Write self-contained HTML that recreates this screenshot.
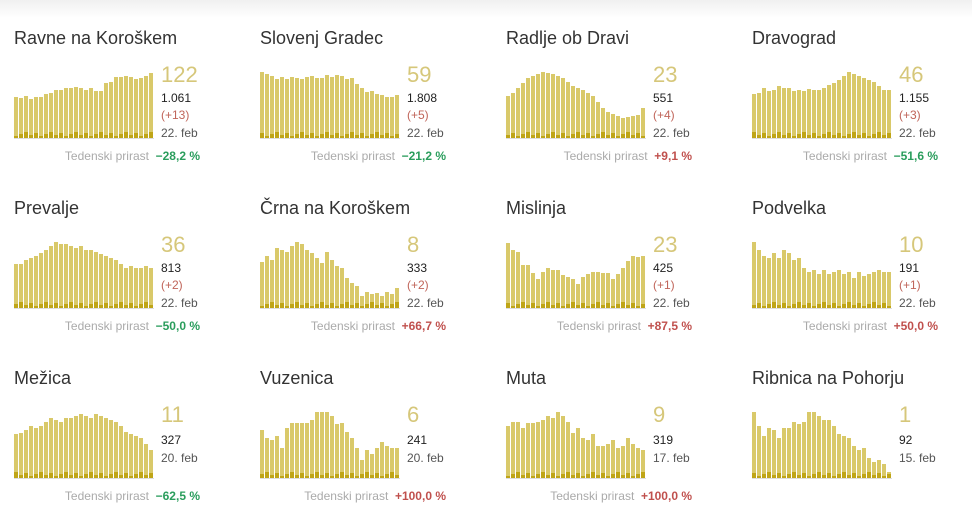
<!DOCTYPE html>
<html><head><meta charset="utf-8"><style>
body{margin:0;width:972px;height:523px;background:#fff;font-family:"Liberation Sans",sans-serif;position:relative;overflow:hidden}
.top{position:absolute;left:0;top:0;width:972px;height:18px;background:linear-gradient(#f0f0f0,#fff)}
.p{position:absolute;width:240px;height:170px}
.t{position:absolute;left:0;top:28px;font-size:18px;color:#333;white-space:nowrap}
.big{position:absolute;left:147px;top:62px;font-size:22px;color:#d6c77a}
.s{position:absolute;left:147px;font-size:12px;color:#222}
.d{color:#c0655a}
.dt{color:#555}
.w{position:absolute;right:54px;top:149px;font-size:12px;color:#aaa;white-space:nowrap}
.g{color:#2a9d5c;font-weight:bold}.r{color:#c0504d;font-weight:bold}
svg{position:absolute;left:0;top:0}
</style></head><body><div class="top"></div>
<div id="root"></div>
<script>
var P=[
["Ravne na Koroškem","122","1.061","(+13)","22. feb","−28,2 %","g",[41,40,42,39,41,41,44,45,48,48,50,50,51,50,48,50,47,47,55,56,61,61,62,61,59,60,62,65]],
["Slovenj Gradec","59","1.808","(+5)","22. feb","−21,2 %","g",[66,64,62,59,61,59,61,60,59,61,62,60,60,63,61,63,62,59,60,54,50,46,47,44,43,41,41,43]],
["Radlje ob Dravi","23","551","(+4)","22. feb","+9,1 %","r",[42,45,50,55,60,62,64,66,65,64,62,60,56,52,50,48,45,42,36,30,26,24,22,20,21,22,23,30]],
["Dravograd","46","1.155","(+3)","22. feb","−51,6 %","g",[44,45,50,47,48,52,50,50,47,48,47,49,48,48,50,53,55,58,62,66,64,62,60,58,56,52,48,48]],
["Prevalje","36","813","(+2)","22. feb","−50,0 %","g",[44,44,48,50,52,55,58,62,66,64,64,62,60,62,58,58,56,54,52,50,48,44,40,42,40,40,42,40]],
["Črna na Koroškem","8","333","(+2)","22. feb","+66,7 %","r",[46,52,48,60,58,56,62,66,64,58,55,50,45,56,48,42,40,30,25,22,12,16,14,15,12,16,14,20]],
["Mislinja","23","425","(+1)","22. feb","+87,5 %","r",[65,58,56,43,43,35,29,36,40,38,38,33,31,29,24,31,34,36,36,35,35,29,34,40,47,52,51,52]],
["Podvelka","10","191","(+1)","22. feb","+50,0 %","r",[66,58,52,50,55,50,58,55,48,50,40,36,38,34,38,34,36,38,34,36,30,36,32,34,36,38,36,36]],
["Mežica","11","327","","20. feb","−62,5 %","g",[44,45,48,52,50,52,56,60,58,56,60,60,62,64,62,60,64,62,60,58,56,52,46,44,42,40,34,28]],
["Vuzenica","6","241","","20. feb","+100,0 %","r",[48,40,38,42,30,50,55,55,55,55,58,66,66,66,62,54,55,46,40,30,18,28,24,30,36,32,30,30]],
["Muta","9","319","","17. feb","+100,0 %","r",[52,56,56,50,55,55,56,58,62,60,66,62,56,45,50,40,38,44,32,32,34,38,30,32,40,34,30,28]],
["Ribnica na Pohorju","1","92","","15. feb","","",[66,52,42,50,48,40,50,50,56,54,56,66,66,62,58,58,52,44,42,40,32,28,30,20,16,18,14,6]]
];
var X=[14,260,506,752],h="";
P.forEach(function(p,i){
 var x=X[i%4],y=Math.floor(i/4)*170;
 var s='<svg width="150" height="170">';
 p[7].forEach(function(v,j){
  var bx=j*5,dk=2+((j*7+i*3)%5);
  s+='<rect x="'+bx+'" y="'+(138-v)+'" width="4" height="'+v+'" fill="#d9c96a"/>';
  s+='<rect x="'+bx+'" y="'+(138-dk)+'" width="4" height="'+dk+'" fill="#bfa517"/>';
 });
 s+='<rect x="0" y="138" width="140" height="1" fill="#ddd"/></svg>';
 var hasD=p[3]!=="";
 h+='<div class="p" style="left:'+x+'px;top:'+y+'px">'+s+
 '<div class="t">'+p[0]+'</div><div class="big">'+p[1]+'</div>'+
 '<div class="s" style="top:'+(hasD?91:93)+'px">'+p[2]+'</div>'+
 (hasD?'<div class="s d" style="top:108px">'+p[3]+'</div>':'')+
 '<div class="s dt" style="top:'+(hasD?126:111)+'px">'+p[4]+'</div>'+
 (p[5]?'<div class="w">Tedenski prirast&nbsp; <span class="'+p[6]+'">'+p[5]+'</span></div>':'')+
 '</div>';
});
document.getElementById('root').innerHTML=h;
</script>
</body></html>
